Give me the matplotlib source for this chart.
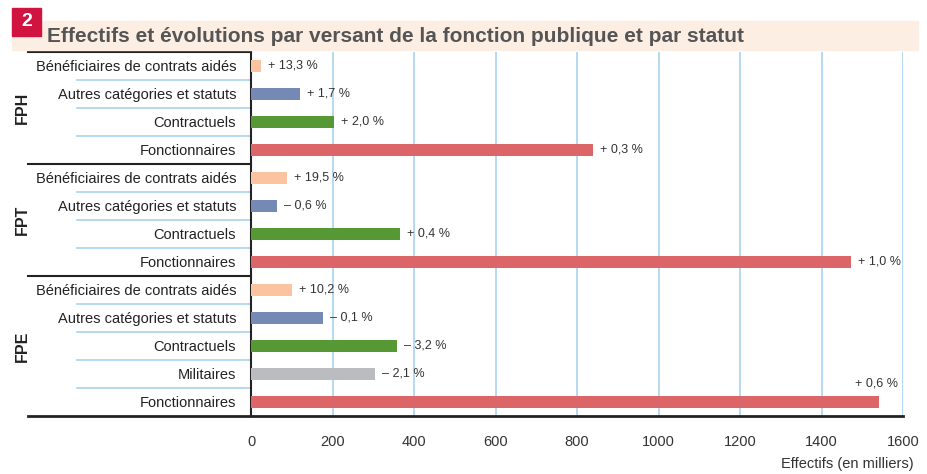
import matplotlib
matplotlib.use("Agg")
import matplotlib.pyplot as plt
from matplotlib.patches import Rectangle

plt.rcParams["font.family"] = ["Liberation Sans Narrow", "Liberation Sans", "DejaVu Sans"]

# data, top to bottom
groups = ["FPH", "FPT", "FPE"]
group_sizes = [4, 4, 5]
categories = ["Bénéficiaires de contrats aidés", "Autres catégories et statuts", "Contractuels", "Fonctionnaires",
              "Bénéficiaires de contrats aidés", "Autres catégories et statuts", "Contractuels", "Fonctionnaires",
              "Bénéficiaires de contrats aidés", "Autres catégories et statuts", "Contractuels", "Militaires", "Fonctionnaires"]
values = [24, 120, 203, 839,
          88, 62, 366, 1472,
          100, 176, 358, 304, 1541]
evolutions = ["+ 13,3 %", "+ 1,7 %", "+ 2,0 %", "+ 0,3 %",
              "+ 19,5 %", "– 0,6 %", "+ 0,4 %", "+ 1,0 %",
              "+ 10,2 %", "– 0,1 %", "– 3,2 %", "– 2,1 %", "+ 0,6 %"]

colors = {"Bénéficiaires de contrats aidés": "#fcc3a0",
          "Autres catégories et statuts": "#7589b5",
          "Contractuels": "#559834",
          "Militaires": "#bbbcc0",
          "Fonctionnaires": "#dc6567"}

fig = plt.figure(figsize=(9.27, 4.74), dpi=100)
ax = fig.add_axes([0.2711, 0.1224, 0.7030, 0.7679])

y = list(range(len(categories)))
ax.barh(y, values, height=0.43, color=[colors[c] for c in categories], zorder=3)

for i, (v, lab) in enumerate(zip(values, evolutions)):
    if i == len(values) - 1:
        # last one sits above the bar
        ax.annotate(lab, (v, i), xytext=(14, 9), textcoords="offset points",
                    ha="right", va="bottom", fontsize=9, color="#333333")
    else:
        ax.annotate(lab, (v, i), xytext=(5, 0), textcoords="offset points",
                    ha="left", va="center", fontsize=9, color="#333333")

ax.set_xlim(0, 1600)
ax.set_ylim(len(categories) - 0.5, -0.5)
ax.set_xticks(range(0, 1601, 200))
ax.set_xticklabels([str(t) for t in range(0, 1601, 200)], fontsize=10.5, color="#333333")
ax.set_yticks(y)
ax.set_yticklabels(categories, fontsize=10.5, color="#222222")
ax.tick_params(axis="both", length=0)
ax.tick_params(axis="y", pad=11)
ax.tick_params(axis="x", pad=14)

for t in range(200, 1601, 200):
    ax.axvline(t, color="#a9d3f0", lw=1.2, zorder=1)

for s in ["top", "right"]:
    ax.spines[s].set_visible(False)
ax.spines["left"].set_color("#222222")
ax.spines["left"].set_linewidth(1.5)
ax.spines["bottom"].set_visible(False)

tr = ax.get_yaxis_transform()
# bottom axis line extending left
ax.plot([-0.343, 1.0], [len(categories) - 0.5] * 2, color="#222222", lw=2, transform=tr, clip_on=False, zorder=4)
# group separators and category separators
start = 0
for g, n in zip(groups, group_sizes):
    ax.plot([-0.343, 0], [start - 0.5] * 2, color="#222222", lw=1.5, transform=tr, clip_on=False)
    for k in range(1, n):
        ax.plot([-0.267, 0], [start + k - 0.5] * 2, color="#a9d3f0", lw=1.2, transform=tr, clip_on=False)
    ax.text(-0.352, start + (n - 1) / 2, g, rotation=90, ha="center", va="center",
            fontsize=11.5, fontweight="bold", color="#222222", transform=tr,
            family=["Liberation Sans", "DejaVu Sans"])
    start += n

ax.text(1.017, -0.113, "Effectifs (en milliers)", transform=ax.transAxes, ha="right", va="top",
        fontsize=10.5, color="#333333")

# title band
fig.patches.append(Rectangle((12 / 927, 1 - 50 / 474), 906 / 927, 29 / 474, transform=fig.transFigure,
                             color="#fdeee4", zorder=0))
fig.patches.append(Rectangle((12 / 927, 1 - 36 / 474), 29 / 927, 28 / 474, transform=fig.transFigure,
                             color="#d0143f", zorder=1))
fig.text(26.5 / 927, 1 - 22 / 474, "2", ha="center", va="center", color="white", fontsize=14,
         fontweight="bold", family=["Liberation Sans", "DejaVu Sans"])
fig.text(47 / 927, 1 - 36 / 474, "Effectifs et évolutions par versant de la fonction publique et par statut",
         ha="left", va="center", fontsize=15, fontweight="bold", color="#555555",
         family=["Liberation Sans", "DejaVu Sans"])

fig.savefig("out.png", dpi=100)
